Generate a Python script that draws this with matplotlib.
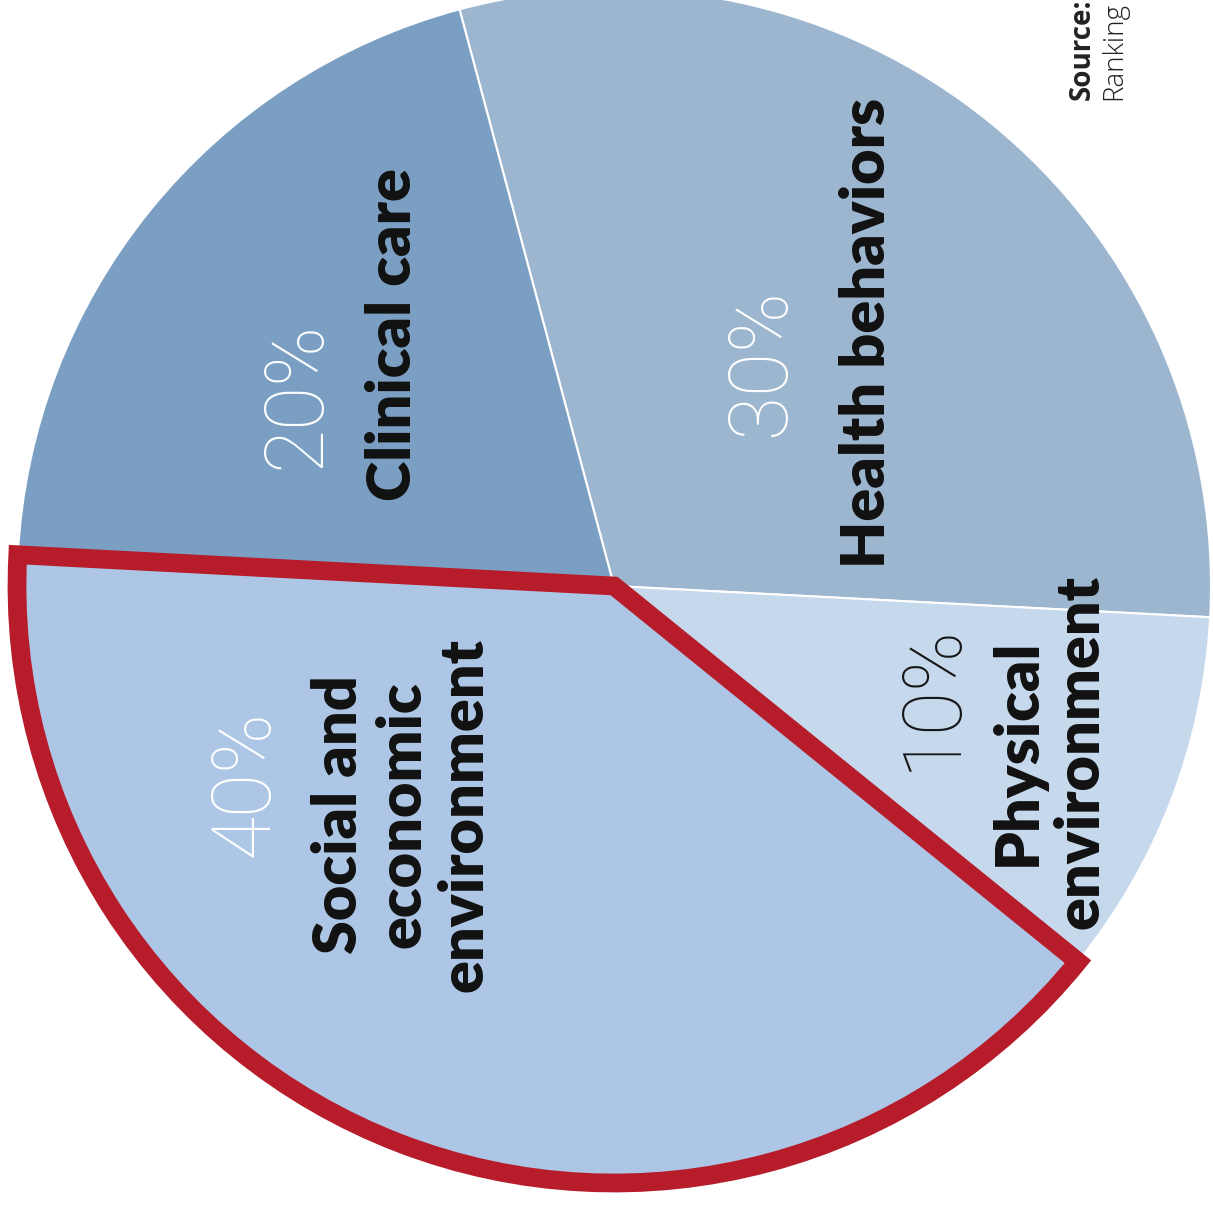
import matplotlib.pyplot as plt

W, H = 1213, 1205

# slices, clockwise from the top
factors = ['Health behaviors', 'Physical\nenvironment',
           'Social and\neconomic\nenvironment', 'Clinical care']
shares = [30, 10, 40, 20]
colors = ['#9db6cf', '#c6d8ec', '#aec6e5', '#7a9fc3']
pct_colors = ['white', '#161616', 'white', 'white']

# label placement in pixel coords (x, y from top)
pct_pos = [(762, 362), (932, 697), (245, 783), (297, 395)]
name_pos = [(867, 333), (1049, 752), (402, 815), (393, 335)]

highlight = 2  # social and economic slice gets the red outline

fig = plt.figure(figsize=(W / 100, H / 100), dpi=100)
ax = fig.add_axes([0, 0, 1, 1])

wedges, _ = ax.pie(shares, colors=colors, startangle=105, counterclock=False,
                   center=(614, H - 586), radius=597,
                   wedgeprops=dict(edgecolor='white', linewidth=1.5))

w = wedges[highlight]
w.set_edgecolor('#b71c2b')
w.set_linewidth(13.5)
w.set_joinstyle('miter')
w.set_zorder(5)

for i, name in enumerate(factors):
    px, py = pct_pos[i]
    ax.text(px, H - py, f'{shares[i]}%', rotation=90, ha='center', va='center',
            color=pct_colors[i], fontsize=58, family='Roboto', fontweight='light',
            zorder=6)
    nx, ny = name_pos[i]
    ax.text(nx, H - ny, name, rotation=90, ha='center', va='center',
            multialignment='center', linespacing=1.15, color='#111111',
            fontsize=44, family='Lato', fontweight='heavy', zorder=6)

# source note in the corner
ax.text(1082, H - 100, 'Source:', rotation=90, rotation_mode='anchor',
        ha='left', va='center', fontsize=20, family='Open Sans',
        fontweight='bold', color='#222222')
ax.text(1114, H - 100, 'Ranking', rotation=90, rotation_mode='anchor',
        ha='left', va='center', fontsize=20, family='Open Sans',
        fontweight='light', color='#222222')

ax.set_xlim(0, W)
ax.set_ylim(0, H)
ax.axis('off')

fig.savefig('out.png', dpi=100, facecolor='white')
